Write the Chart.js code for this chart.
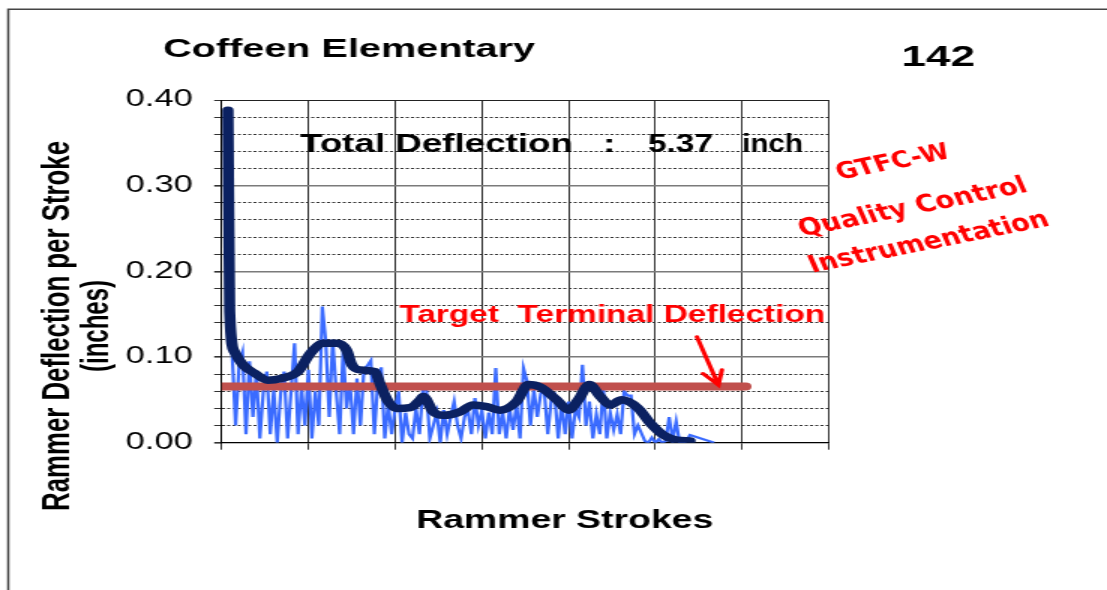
<!DOCTYPE html>
<html>
<head>
<meta charset="utf-8">
<script src="https://cdn.jsdelivr.net/npm/chart.js@4/dist/chart.umd.min.js"></script>
<style>
  html, body { margin: 0; padding: 0; background: #fff; overflow: hidden; }
  /* the sheet is drawn narrow and stretched sideways, like the original export */
  #wrap { position: absolute; left: 0; top: 0; width: 738px; height: 590px; transform: scaleX(1.5); transform-origin: 0 0; }
</style>
</head>
<body>
<div id="wrap"><canvas id="rammer_chart"></canvas></div>
<script>
const chartTitle = 'Coffeen Elementary';
const pileNumber = '142';
const yTitle = ['Rammer Deflection per Stroke', '(inches)'];
const xTitle = 'Rammer Strokes';
const totalDeflection = '5.37';

// deflection per stroke, strokes 1..142 (null = no reading)
const deflection = [
  0.38, 0.17, 0.105, 0.02, 0.09, 0.105, 0.01, 0.095, 0.03, 0.083,
  0.005, 0.06, 0.083, 0.01, 0.062, 0.0, 0.058, 0.083, 0.005, 0.06,
  0.116, 0.01, 0.065, 0.02, 0.085, 0.005, 0.06, 0.02, 0.159, 0.118,
  0.03, 0.12, 0.06, 0.01, 0.108, 0.04, 0.07, 0.01, 0.075, 0.02,
  0.085, 0.09, 0.096, 0.01, 0.07, 0.088, 0.005, 0.045, 0.01, 0.04,
  0.06, 0.0, 0.035, 0.01, 0.005, 0.04, 0.01, 0.062, 0.062, 0.005,
  0.02, 0.035, 0.0, 0.038, 0.01, 0.03, 0.048, 0.02, 0.005, 0.03,
  0.038, 0.01, 0.052, 0.02, 0.038, 0.005, 0.035, 0.01, 0.087, 0.01,
  0.035, 0.005, 0.04, 0.015, 0.045, 0.005, 0.087, 0.072, 0.02, 0.062,
  0.03, 0.058, 0.06, 0.01, 0.05, 0.055, 0.005, 0.045, 0.01, 0.048,
  0.005, 0.04, 0.03, 0.091, 0.02, 0.048, 0.005, 0.033, 0.01, 0.065,
  0.005, 0.035, 0.015, 0.033, 0.01, 0.06, 0.055, 0.055, 0.01, 0.02,
  0.011, 0.002, 0.0, 0.006, 0.0, 0.004, 0.0, 0.002, 0.03, 0.003,
  0.025, 0.0, 0.0, 0.002, 0.009, null, null, null, null, null,
  null, 0.0
];

// running average line
const avgStrokes = [1.8, 2.3, 3.7, 6.1, 9.5, 13.3, 17.1, 22, 25.5, 29.3, 33.2, 36, 37.5, 39.9, 44.2,
  45.6, 48, 50.5, 54.3, 57.2, 58.1, 61, 63.9, 68.7, 72.5, 76.4, 80.2, 85, 88.4, 91.8,
  96.6, 100, 102.8, 106, 109.1, 112, 115.3, 120.1, 123.5, 127.3, 131.2, 135];
const avgValues = [0.388, 0.153, 0.106, 0.091, 0.081, 0.073, 0.075, 0.083, 0.104, 0.116, 0.116, 0.108, 0.091, 0.085, 0.083,
  0.069, 0.048, 0.040, 0.041, 0.050, 0.054, 0.036, 0.032, 0.036, 0.044, 0.042, 0.038, 0.048, 0.068, 0.065,
  0.050, 0.038, 0.050, 0.068, 0.054, 0.044, 0.050, 0.040, 0.023, 0.009, 0.003, 0.002];

const targetValue = 0.0655;
const targetEnd = 151;
const arrowFrom = [137, 0.1236];
const arrowTo = [143.2, 0.0673];

const yTicks = [0, 0.1, 0.2, 0.3, 0.4];

function isMajor(v) {
  return Math.abs(v * 10 - Math.round(v * 10)) < 1e-6;
}

function putText(ctx, text, x, y, size, color, maxW, align, family) {
  ctx.font = 'bold ' + size + 'px ' + (family || '"Liberation Sans", Arial, sans-serif');
  ctx.fillStyle = color;
  ctx.textAlign = align || 'left';
  if (maxW) ctx.fillText(text, x, y, maxW);
  else ctx.fillText(text, x, y);
}

const sheetText = {
  id: 'sheetText',
  afterDraw(chart) {
    const ctx = chart.ctx;
    const xs = chart.scales.x;
    const ys = chart.scales.y;
    ctx.save();

    // frame of the sheet
    ctx.strokeStyle = '#444';
    ctx.lineWidth = 1.5;
    ctx.beginPath();
    ctx.moveTo(5.5, 590);
    ctx.lineTo(5.5, 9.3);
    ctx.lineTo(738, 9.3);
    ctx.stroke();

    ctx.textBaseline = 'alphabetic';
    putText(ctx, chartTitle, 108.7, 56.7, 26.5, '#000', 248);
    putText(ctx, pileNumber, 601, 66, 30, '#000', 49);

    putText(ctx, 'Total Deflection', 200, 151.7, 25, '#000', 182);
    putText(ctx, ':', 402, 151.7, 25, '#000');
    putText(ctx, totalDeflection, 432, 151.7, 25, '#000', 43.3);
    putText(ctx, 'inch', 494.7, 151.7, 25, '#000', 40.7);

    putText(ctx, 'Target  Terminal Deflection', 266.2, 321.7, 23.5, '#f00', 284);

    // arrow to the target line
    const ax1 = xs.getPixelForValue(arrowFrom[0]);
    const ay1 = ys.getPixelForValue(arrowFrom[1]);
    const ax2 = xs.getPixelForValue(arrowTo[0]);
    const ay2 = ys.getPixelForValue(arrowTo[1]);
    const ang = Math.atan2(ay1 - ay2, ax1 - ax2);
    ctx.strokeStyle = '#f00';
    ctx.lineWidth = 3;
    ctx.lineCap = 'round';
    ctx.beginPath();
    ctx.moveTo(ax1, ay1);
    ctx.lineTo(ax2, ay2);
    ctx.moveTo(ax2 + 15.5 * Math.cos(ang + 0.44), ay2 + 15.5 * Math.sin(ang + 0.44));
    ctx.lineTo(ax2, ay2);
    ctx.lineTo(ax2 + 15.5 * Math.cos(ang - 0.44), ay2 + 15.5 * Math.sin(ang - 0.44));
    ctx.stroke();

    // stamp
    ctx.textBaseline = 'middle';
    const stamp = [['GTFC-W', 595.3, 163, 23, 78], ['Quality Control', 608.7, 208, 24, 158], ['Instrumentation', 619.3, 243, 24, 166]];
    stamp.forEach((s) => {
      ctx.save();
      ctx.translate(s[1], s[2]);
      ctx.rotate(-0.29);
      putText(ctx, s[0], 0, 0, s[3], '#f00', s[4], 'center', '"DejaVu Sans", sans-serif');
      ctx.restore();
    });

    // axis titles
    ctx.textBaseline = 'alphabetic';
    putText(ctx, xTitle, 376.5, 528, 25, '#000', 198, 'center');
    ctx.save();
    ctx.translate(0, 326);
    ctx.rotate(-Math.PI / 2);
    putText(ctx, yTitle[0], 0, 46, 26.5, '#000', 370, 'center');
    putText(ctx, yTitle[1], 0, 72, 26.5, '#000', 92, 'center');
    ctx.restore();

    ctx.restore();
  }
};

function drawChart() {
  const ctxRammer = document.getElementById('rammer_chart');
  const blueSeries = deflection.map((v, i) => ({ x: i + 1, y: v }));
  const avgSeries = avgStrokes.map((s, i) => ({ x: s, y: avgValues[i] }));

  new Chart(ctxRammer, {
    type: 'line',
    data: {
      datasets: [{
        label: 'Deflection per stroke',
        data: avgSeries,
        borderColor: '#0b2161',
        borderWidth: 7.5,
        borderJoinStyle: 'round',
        borderCapStyle: 'round',
        cubicInterpolationMode: 'monotone',
        pointRadius: 0,
        order: 0
      }, {
        label: 'Target',
        data: [{ x: 0, y: targetValue }, { x: targetEnd, y: targetValue }],
        borderColor: '#c0504d',
        borderWidth: 8,
        borderCapStyle: 'round',
        pointRadius: 0,
        order: 1
      }, {
        label: 'Stroke',
        data: blueSeries,
        borderColor: '#3a6bff',
        borderWidth: 2.2,
        spanGaps: true,
        pointRadius: 0,
        order: 2
      }]
    },
    options: {
      responsive: true,
      maintainAspectRatio: false,
      animation: false,
      layout: { padding: { left: 0, top: 100, right: 185.5, bottom: 137.3 } },
      plugins: {
        legend: { display: false },
        tooltip: { enabled: false }
      },
      scales: {
        x: {
          type: 'linear',
          min: 0,
          max: 175,
          ticks: { stepSize: 25, display: false },
          grid: { color: '#333', lineWidth: 1, tickLength: 7, tickColor: '#333' },
          border: { color: '#000', width: 1 },
          afterFit: (scale) => { scale.height = 10; }
        },
        y: {
          min: 0,
          max: 0.4,
          ticks: {
            stepSize: 0.02,
            autoSkip: false,
            padding: 14.3,
            color: '#000',
            font: { family: '"Liberation Sans", Arial, sans-serif', size: 23 },
            callback: (v) => (isMajor(v) && yTicks.some(t => Math.abs(t - v) < 1e-6)) ? v.toFixed(2) : ''
          },
          grid: {
            tickLength: 5,
            tickColor: '#333',
            color: (c) => {
              if (!c.tick) return '#333';
              if (c.tick.value > 0.399) return '#222';
              return isMajor(c.tick.value) ? '#7a7a7a' : '#333';
            },
            lineWidth: (c) => (c.tick && isMajor(c.tick.value) && c.tick.value < 0.399) ? 1.6 : 1
          },
          border: {
            color: '#000',
            width: 1,
            dash: (c) => (c.tick && !isMajor(c.tick.value)) ? [2, 1.5] : []
          },
          afterFit: (scale) => { scale.width = 147.8; }
        }
      }
    },
    plugins: [sheetText]
  });
}

drawChart();
</script>
</body>
</html>
